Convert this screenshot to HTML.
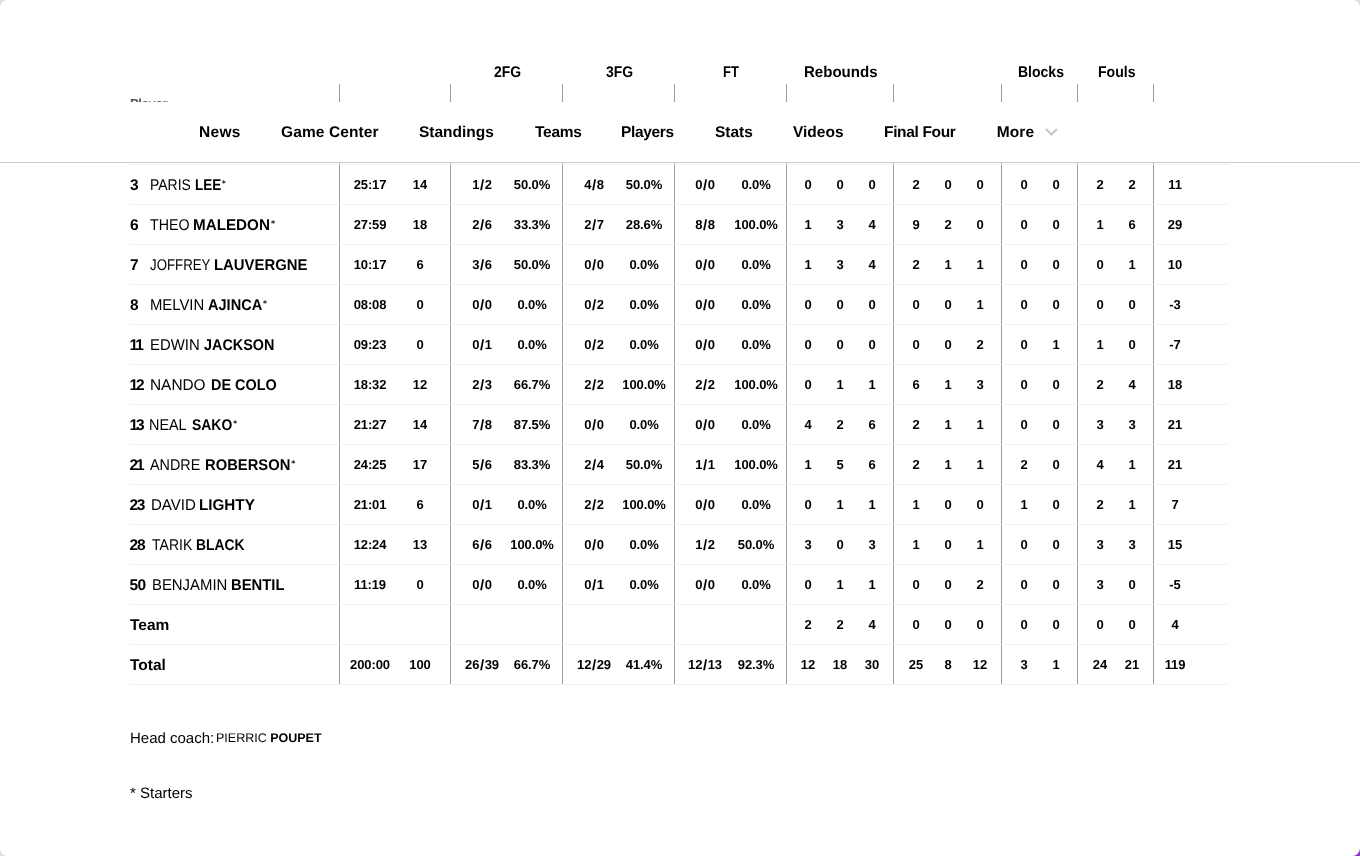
<!DOCTYPE html>
<html lang="en"><head><meta charset="utf-8"><title>Box score</title>
<style>
html,body{margin:0;padding:0}
body{width:1360px;height:856px;overflow:hidden;position:relative;background:#e2e2e2;font-family:"Liberation Sans",Arial,sans-serif;color:#000;text-rendering:geometricPrecision}
.corner{position:absolute;right:0;bottom:0;width:40px;height:40px;background:#9a2be2}
.page{position:absolute;left:0;top:0;width:1360px;height:856px;background:#fff;border-radius:8px;overflow:hidden}
.g{position:absolute;top:63px;height:20px;line-height:20px;font-size:15.5px;font-weight:bold;white-space:nowrap;transform-origin:0 15px}
.hv{position:absolute;top:84px;height:18px;width:1px;background:#9c9c9c}
.pl{position:absolute;left:130px;top:96.6px;font-size:13px;font-weight:bold;color:#555;line-height:14px;letter-spacing:-0.3px}
.nav{position:absolute;left:0;top:102px;width:1360px;height:60px;background:#fff;border-bottom:1px solid #cbcbcb}
.nav span{position:absolute;top:0.5px;line-height:59px;font-size:15.5px;font-weight:bold;white-space:nowrap}
.chev{position:absolute;left:1044px;top:26px}
.hl{position:absolute;left:130px;width:1099px;height:1px;background:#f1f1f1}
.bv{position:absolute;top:163px;height:521px;width:1px;background:#9c9c9c}
.ix{position:absolute;width:3px;height:1px;background:linear-gradient(90deg,#f9f9f9 0 1px,#d0d0d0 1px 2px,#f9f9f9 2px 3px)}
.r{position:absolute;left:0;width:1360px;height:39px}
.num{position:absolute;left:130px;top:1px;line-height:39px;font-size:15.5px;font-weight:bold}
.nm{position:absolute;left:151px;top:1px;line-height:39px;font-size:15.5px;white-space:nowrap;transform-origin:0 25px}
.ln{font-weight:bold}
.nm i{font-style:normal;font-weight:bold;font-size:8px;font-family:"DejaVu Sans",sans-serif;position:relative;top:-4px;margin-left:1px;letter-spacing:0}
.c{position:absolute;top:0px;line-height:39px;font-size:13px;font-weight:bold;width:60px;margin-left:-30px;text-align:center;letter-spacing:-0.1px}
.sl{margin:0 0.6px;font-size:15px;line-height:0;position:relative;top:1px}
.lab{position:absolute;left:130px;top:1px;line-height:39px;font-size:15.5px;font-weight:bold}
.coach{position:absolute;left:130px;top:729px;font-size:15px;line-height:20px;letter-spacing:0px}
.coach .s{font-size:12.5px;letter-spacing:0px;margin-left:-2.4px;position:relative;top:-1px}
.star{position:absolute;left:130px;top:784px;font-size:15px;line-height:20px;letter-spacing:0px}
</style></head><body>
<div class="corner"></div>
<div class="page">

<div class="g" id="g0" style="left:494.0px;transform:scaleX(0.9)">2FG</div>
<div class="g" id="g1" style="left:606.0px;transform:scaleX(0.9)">3FG</div>
<div class="g" id="g2" style="left:723.1px;transform:scaleX(0.8366)">FT</div>
<div class="g" id="g3" style="left:804.02px;transform:scaleX(0.9709)">Rebounds</div>
<div class="g" id="g4" style="left:1018.02px;transform:scaleX(0.9043)">Blocks</div>
<div class="g" id="g5" style="left:1098.02px;transform:scaleX(0.9078)">Fouls</div>
<div class="hv" style="left:339px"></div>
<div class="hv" style="left:450px"></div>
<div class="hv" style="left:562px"></div>
<div class="hv" style="left:674px"></div>
<div class="hv" style="left:786px"></div>
<div class="hv" style="left:893px"></div>
<div class="hv" style="left:1001px"></div>
<div class="hv" style="left:1077px"></div>
<div class="hv" style="left:1153px"></div>
<div class="pl" id="pl">Player</div>
<div class="hl" style="top:164px"></div>
<div class="hl" style="top:204px"></div>
<div class="hl" style="top:244px"></div>
<div class="hl" style="top:284px"></div>
<div class="hl" style="top:324px"></div>
<div class="hl" style="top:364px"></div>
<div class="hl" style="top:404px"></div>
<div class="hl" style="top:444px"></div>
<div class="hl" style="top:484px"></div>
<div class="hl" style="top:524px"></div>
<div class="hl" style="top:564px"></div>
<div class="hl" style="top:604px"></div>
<div class="hl" style="top:644px"></div>
<div class="hl" style="top:684px"></div>
<div class="bv" style="left:339px"></div>
<div class="bv" style="left:450px"></div>
<div class="bv" style="left:562px"></div>
<div class="bv" style="left:674px"></div>
<div class="bv" style="left:786px"></div>
<div class="bv" style="left:893px"></div>
<div class="bv" style="left:1001px"></div>
<div class="bv" style="left:1077px"></div>
<div class="bv" style="left:1153px"></div>
<div class="ix" style="left:338px;top:164px"></div>
<div class="ix" style="left:449px;top:164px"></div>
<div class="ix" style="left:561px;top:164px"></div>
<div class="ix" style="left:673px;top:164px"></div>
<div class="ix" style="left:785px;top:164px"></div>
<div class="ix" style="left:892px;top:164px"></div>
<div class="ix" style="left:1000px;top:164px"></div>
<div class="ix" style="left:1076px;top:164px"></div>
<div class="ix" style="left:1152px;top:164px"></div>
<div class="ix" style="left:338px;top:204px"></div>
<div class="ix" style="left:449px;top:204px"></div>
<div class="ix" style="left:561px;top:204px"></div>
<div class="ix" style="left:673px;top:204px"></div>
<div class="ix" style="left:785px;top:204px"></div>
<div class="ix" style="left:892px;top:204px"></div>
<div class="ix" style="left:1000px;top:204px"></div>
<div class="ix" style="left:1076px;top:204px"></div>
<div class="ix" style="left:1152px;top:204px"></div>
<div class="ix" style="left:338px;top:244px"></div>
<div class="ix" style="left:449px;top:244px"></div>
<div class="ix" style="left:561px;top:244px"></div>
<div class="ix" style="left:673px;top:244px"></div>
<div class="ix" style="left:785px;top:244px"></div>
<div class="ix" style="left:892px;top:244px"></div>
<div class="ix" style="left:1000px;top:244px"></div>
<div class="ix" style="left:1076px;top:244px"></div>
<div class="ix" style="left:1152px;top:244px"></div>
<div class="ix" style="left:338px;top:284px"></div>
<div class="ix" style="left:449px;top:284px"></div>
<div class="ix" style="left:561px;top:284px"></div>
<div class="ix" style="left:673px;top:284px"></div>
<div class="ix" style="left:785px;top:284px"></div>
<div class="ix" style="left:892px;top:284px"></div>
<div class="ix" style="left:1000px;top:284px"></div>
<div class="ix" style="left:1076px;top:284px"></div>
<div class="ix" style="left:1152px;top:284px"></div>
<div class="ix" style="left:338px;top:324px"></div>
<div class="ix" style="left:449px;top:324px"></div>
<div class="ix" style="left:561px;top:324px"></div>
<div class="ix" style="left:673px;top:324px"></div>
<div class="ix" style="left:785px;top:324px"></div>
<div class="ix" style="left:892px;top:324px"></div>
<div class="ix" style="left:1000px;top:324px"></div>
<div class="ix" style="left:1076px;top:324px"></div>
<div class="ix" style="left:1152px;top:324px"></div>
<div class="ix" style="left:338px;top:364px"></div>
<div class="ix" style="left:449px;top:364px"></div>
<div class="ix" style="left:561px;top:364px"></div>
<div class="ix" style="left:673px;top:364px"></div>
<div class="ix" style="left:785px;top:364px"></div>
<div class="ix" style="left:892px;top:364px"></div>
<div class="ix" style="left:1000px;top:364px"></div>
<div class="ix" style="left:1076px;top:364px"></div>
<div class="ix" style="left:1152px;top:364px"></div>
<div class="ix" style="left:338px;top:404px"></div>
<div class="ix" style="left:449px;top:404px"></div>
<div class="ix" style="left:561px;top:404px"></div>
<div class="ix" style="left:673px;top:404px"></div>
<div class="ix" style="left:785px;top:404px"></div>
<div class="ix" style="left:892px;top:404px"></div>
<div class="ix" style="left:1000px;top:404px"></div>
<div class="ix" style="left:1076px;top:404px"></div>
<div class="ix" style="left:1152px;top:404px"></div>
<div class="ix" style="left:338px;top:444px"></div>
<div class="ix" style="left:449px;top:444px"></div>
<div class="ix" style="left:561px;top:444px"></div>
<div class="ix" style="left:673px;top:444px"></div>
<div class="ix" style="left:785px;top:444px"></div>
<div class="ix" style="left:892px;top:444px"></div>
<div class="ix" style="left:1000px;top:444px"></div>
<div class="ix" style="left:1076px;top:444px"></div>
<div class="ix" style="left:1152px;top:444px"></div>
<div class="ix" style="left:338px;top:484px"></div>
<div class="ix" style="left:449px;top:484px"></div>
<div class="ix" style="left:561px;top:484px"></div>
<div class="ix" style="left:673px;top:484px"></div>
<div class="ix" style="left:785px;top:484px"></div>
<div class="ix" style="left:892px;top:484px"></div>
<div class="ix" style="left:1000px;top:484px"></div>
<div class="ix" style="left:1076px;top:484px"></div>
<div class="ix" style="left:1152px;top:484px"></div>
<div class="ix" style="left:338px;top:524px"></div>
<div class="ix" style="left:449px;top:524px"></div>
<div class="ix" style="left:561px;top:524px"></div>
<div class="ix" style="left:673px;top:524px"></div>
<div class="ix" style="left:785px;top:524px"></div>
<div class="ix" style="left:892px;top:524px"></div>
<div class="ix" style="left:1000px;top:524px"></div>
<div class="ix" style="left:1076px;top:524px"></div>
<div class="ix" style="left:1152px;top:524px"></div>
<div class="ix" style="left:338px;top:564px"></div>
<div class="ix" style="left:449px;top:564px"></div>
<div class="ix" style="left:561px;top:564px"></div>
<div class="ix" style="left:673px;top:564px"></div>
<div class="ix" style="left:785px;top:564px"></div>
<div class="ix" style="left:892px;top:564px"></div>
<div class="ix" style="left:1000px;top:564px"></div>
<div class="ix" style="left:1076px;top:564px"></div>
<div class="ix" style="left:1152px;top:564px"></div>
<div class="ix" style="left:338px;top:604px"></div>
<div class="ix" style="left:449px;top:604px"></div>
<div class="ix" style="left:561px;top:604px"></div>
<div class="ix" style="left:673px;top:604px"></div>
<div class="ix" style="left:785px;top:604px"></div>
<div class="ix" style="left:892px;top:604px"></div>
<div class="ix" style="left:1000px;top:604px"></div>
<div class="ix" style="left:1076px;top:604px"></div>
<div class="ix" style="left:1152px;top:604px"></div>
<div class="ix" style="left:338px;top:644px"></div>
<div class="ix" style="left:449px;top:644px"></div>
<div class="ix" style="left:561px;top:644px"></div>
<div class="ix" style="left:673px;top:644px"></div>
<div class="ix" style="left:785px;top:644px"></div>
<div class="ix" style="left:892px;top:644px"></div>
<div class="ix" style="left:1000px;top:644px"></div>
<div class="ix" style="left:1076px;top:644px"></div>
<div class="ix" style="left:1152px;top:644px"></div>
<div class="r" style="top:165px"><div class="num" style="left:130px;letter-spacing:0.0px">3</div><div class="nm fn" style="left:149.7px;transform:scaleX(0.9001)">PARIS</div><div class="nm ln" style="left:194.85px;transform:scaleX(0.8692)">LEE<i>*</i></div><div class="c" style="left:370px">25:17</div><div class="c" style="left:420px">14</div><div class="c" style="left:482px">1<span class="sl">/</span>2</div><div class="c" style="left:532px">50.0%</div><div class="c" style="left:594px">4<span class="sl">/</span>8</div><div class="c" style="left:644px">50.0%</div><div class="c" style="left:705px">0<span class="sl">/</span>0</div><div class="c" style="left:756px">0.0%</div><div class="c" style="left:808px">0</div><div class="c" style="left:840px">0</div><div class="c" style="left:872px">0</div><div class="c" style="left:916px">2</div><div class="c" style="left:948px">0</div><div class="c" style="left:980px">0</div><div class="c" style="left:1024px">0</div><div class="c" style="left:1056px">0</div><div class="c" style="left:1100px">2</div><div class="c" style="left:1132px">2</div><div class="c" style="left:1175px">11</div></div>
<div class="r" style="top:205px"><div class="num" style="left:130px;letter-spacing:0.0px">6</div><div class="nm fn" style="left:150.4px;transform:scaleX(0.9166)">THEO</div><div class="nm ln" style="left:193.42px;transform:scaleX(0.982)">MALEDON<i>*</i></div><div class="c" style="left:370px">27:59</div><div class="c" style="left:420px">18</div><div class="c" style="left:482px">2<span class="sl">/</span>6</div><div class="c" style="left:532px">33.3%</div><div class="c" style="left:594px">2<span class="sl">/</span>7</div><div class="c" style="left:644px">28.6%</div><div class="c" style="left:705px">8<span class="sl">/</span>8</div><div class="c" style="left:756px">100.0%</div><div class="c" style="left:808px">1</div><div class="c" style="left:840px">3</div><div class="c" style="left:872px">4</div><div class="c" style="left:916px">9</div><div class="c" style="left:948px">2</div><div class="c" style="left:980px">0</div><div class="c" style="left:1024px">0</div><div class="c" style="left:1056px">0</div><div class="c" style="left:1100px">1</div><div class="c" style="left:1132px">6</div><div class="c" style="left:1175px">29</div></div>
<div class="r" style="top:245px"><div class="num" style="left:130px;letter-spacing:0.0px">7</div><div class="nm fn" style="left:149.83px;transform:scaleX(0.8558)">JOFFREY</div><div class="nm ln" style="left:214.05px;transform:scaleX(0.9605)">LAUVERGNE</div><div class="c" style="left:370px">10:17</div><div class="c" style="left:420px">6</div><div class="c" style="left:482px">3<span class="sl">/</span>6</div><div class="c" style="left:532px">50.0%</div><div class="c" style="left:594px">0<span class="sl">/</span>0</div><div class="c" style="left:644px">0.0%</div><div class="c" style="left:705px">0<span class="sl">/</span>0</div><div class="c" style="left:756px">0.0%</div><div class="c" style="left:808px">1</div><div class="c" style="left:840px">3</div><div class="c" style="left:872px">4</div><div class="c" style="left:916px">2</div><div class="c" style="left:948px">1</div><div class="c" style="left:980px">1</div><div class="c" style="left:1024px">0</div><div class="c" style="left:1056px">0</div><div class="c" style="left:1100px">0</div><div class="c" style="left:1132px">1</div><div class="c" style="left:1175px">10</div></div>
<div class="r" style="top:285px"><div class="num" style="left:130px;letter-spacing:0.0px">8</div><div class="nm fn" style="left:149.62px;transform:scaleX(0.9582)">MELVIN</div><div class="nm ln" style="left:208.42px;transform:scaleX(0.939)">AJINCA<i>*</i></div><div class="c" style="left:370px">08:08</div><div class="c" style="left:420px">0</div><div class="c" style="left:482px">0<span class="sl">/</span>0</div><div class="c" style="left:532px">0.0%</div><div class="c" style="left:594px">0<span class="sl">/</span>2</div><div class="c" style="left:644px">0.0%</div><div class="c" style="left:705px">0<span class="sl">/</span>0</div><div class="c" style="left:756px">0.0%</div><div class="c" style="left:808px">0</div><div class="c" style="left:840px">0</div><div class="c" style="left:872px">0</div><div class="c" style="left:916px">0</div><div class="c" style="left:948px">0</div><div class="c" style="left:980px">1</div><div class="c" style="left:1024px">0</div><div class="c" style="left:1056px">0</div><div class="c" style="left:1100px">0</div><div class="c" style="left:1132px">0</div><div class="c" style="left:1175px">-3</div></div>
<div class="r" style="top:325px"><div class="num" style="left:129.5px;letter-spacing:-2.0px">11</div><div class="nm fn" style="left:150.24px;transform:scaleX(0.9621)">EDWIN</div><div class="nm ln" style="left:204.39px;transform:scaleX(0.9281)">JACKSON</div><div class="c" style="left:370px">09:23</div><div class="c" style="left:420px">0</div><div class="c" style="left:482px">0<span class="sl">/</span>1</div><div class="c" style="left:532px">0.0%</div><div class="c" style="left:594px">0<span class="sl">/</span>2</div><div class="c" style="left:644px">0.0%</div><div class="c" style="left:705px">0<span class="sl">/</span>0</div><div class="c" style="left:756px">0.0%</div><div class="c" style="left:808px">0</div><div class="c" style="left:840px">0</div><div class="c" style="left:872px">0</div><div class="c" style="left:916px">0</div><div class="c" style="left:948px">0</div><div class="c" style="left:980px">2</div><div class="c" style="left:1024px">0</div><div class="c" style="left:1056px">1</div><div class="c" style="left:1100px">1</div><div class="c" style="left:1132px">0</div><div class="c" style="left:1175px">-7</div></div>
<div class="r" style="top:365px"><div class="num" style="left:129.5px;letter-spacing:-2.0px">12</div><div class="nm fn" style="left:150.22px;transform:scaleX(0.9928)">NANDO</div><div class="nm ln" style="left:211.21px;transform:scaleX(0.9328)">DE COLO</div><div class="c" style="left:370px">18:32</div><div class="c" style="left:420px">12</div><div class="c" style="left:482px">2<span class="sl">/</span>3</div><div class="c" style="left:532px">66.7%</div><div class="c" style="left:594px">2<span class="sl">/</span>2</div><div class="c" style="left:644px">100.0%</div><div class="c" style="left:705px">2<span class="sl">/</span>2</div><div class="c" style="left:756px">100.0%</div><div class="c" style="left:808px">0</div><div class="c" style="left:840px">1</div><div class="c" style="left:872px">1</div><div class="c" style="left:916px">6</div><div class="c" style="left:948px">1</div><div class="c" style="left:980px">3</div><div class="c" style="left:1024px">0</div><div class="c" style="left:1056px">0</div><div class="c" style="left:1100px">2</div><div class="c" style="left:1132px">4</div><div class="c" style="left:1175px">18</div></div>
<div class="r" style="top:405px"><div class="num" style="left:129.5px;letter-spacing:-2.0px">13</div><div class="nm fn" style="left:149.28px;transform:scaleX(0.9284)">NEAL</div><div class="nm ln" style="left:192.04px;transform:scaleX(0.8984)">SAKO<i>*</i></div><div class="c" style="left:370px">21:27</div><div class="c" style="left:420px">14</div><div class="c" style="left:482px">7<span class="sl">/</span>8</div><div class="c" style="left:532px">87.5%</div><div class="c" style="left:594px">0<span class="sl">/</span>0</div><div class="c" style="left:644px">0.0%</div><div class="c" style="left:705px">0<span class="sl">/</span>0</div><div class="c" style="left:756px">0.0%</div><div class="c" style="left:808px">4</div><div class="c" style="left:840px">2</div><div class="c" style="left:872px">6</div><div class="c" style="left:916px">2</div><div class="c" style="left:948px">1</div><div class="c" style="left:980px">1</div><div class="c" style="left:1024px">0</div><div class="c" style="left:1056px">0</div><div class="c" style="left:1100px">3</div><div class="c" style="left:1132px">3</div><div class="c" style="left:1175px">21</div></div>
<div class="r" style="top:445px"><div class="num" style="left:129.5px;letter-spacing:-2.0px">21</div><div class="nm fn" style="left:149.79px;transform:scaleX(0.9259)">ANDRE</div><div class="nm ln" style="left:204.63px;transform:scaleX(0.9531)">ROBERSON<i>*</i></div><div class="c" style="left:370px">24:25</div><div class="c" style="left:420px">17</div><div class="c" style="left:482px">5<span class="sl">/</span>6</div><div class="c" style="left:532px">83.3%</div><div class="c" style="left:594px">2<span class="sl">/</span>4</div><div class="c" style="left:644px">50.0%</div><div class="c" style="left:705px">1<span class="sl">/</span>1</div><div class="c" style="left:756px">100.0%</div><div class="c" style="left:808px">1</div><div class="c" style="left:840px">5</div><div class="c" style="left:872px">6</div><div class="c" style="left:916px">2</div><div class="c" style="left:948px">1</div><div class="c" style="left:980px">1</div><div class="c" style="left:1024px">2</div><div class="c" style="left:1056px">0</div><div class="c" style="left:1100px">4</div><div class="c" style="left:1132px">1</div><div class="c" style="left:1175px">21</div></div>
<div class="r" style="top:485px"><div class="num" style="left:129.5px;letter-spacing:-1.3px">23</div><div class="nm fn" style="left:150.62px;transform:scaleX(0.9715)">DAVID</div><div class="nm ln" style="left:198.6px;transform:scaleX(0.9821)">LIGHTY</div><div class="c" style="left:370px">21:01</div><div class="c" style="left:420px">6</div><div class="c" style="left:482px">0<span class="sl">/</span>1</div><div class="c" style="left:532px">0.0%</div><div class="c" style="left:594px">2<span class="sl">/</span>2</div><div class="c" style="left:644px">100.0%</div><div class="c" style="left:705px">0<span class="sl">/</span>0</div><div class="c" style="left:756px">0.0%</div><div class="c" style="left:808px">0</div><div class="c" style="left:840px">1</div><div class="c" style="left:872px">1</div><div class="c" style="left:916px">1</div><div class="c" style="left:948px">0</div><div class="c" style="left:980px">0</div><div class="c" style="left:1024px">1</div><div class="c" style="left:1056px">0</div><div class="c" style="left:1100px">2</div><div class="c" style="left:1132px">1</div><div class="c" style="left:1175px">7</div></div>
<div class="r" style="top:525px"><div class="num" style="left:129.5px;letter-spacing:-1.0px">28</div><div class="nm fn" style="left:151.61px;transform:scaleX(0.9047)">TARIK</div><div class="nm ln" style="left:196.04px;transform:scaleX(0.895)">BLACK</div><div class="c" style="left:370px">12:24</div><div class="c" style="left:420px">13</div><div class="c" style="left:482px">6<span class="sl">/</span>6</div><div class="c" style="left:532px">100.0%</div><div class="c" style="left:594px">0<span class="sl">/</span>0</div><div class="c" style="left:644px">0.0%</div><div class="c" style="left:705px">1<span class="sl">/</span>2</div><div class="c" style="left:756px">50.0%</div><div class="c" style="left:808px">3</div><div class="c" style="left:840px">0</div><div class="c" style="left:872px">3</div><div class="c" style="left:916px">1</div><div class="c" style="left:948px">0</div><div class="c" style="left:980px">1</div><div class="c" style="left:1024px">0</div><div class="c" style="left:1056px">0</div><div class="c" style="left:1100px">3</div><div class="c" style="left:1132px">3</div><div class="c" style="left:1175px">15</div></div>
<div class="r" style="top:565px"><div class="num" style="left:129.5px;letter-spacing:-0.5px">50</div><div class="nm fn" style="left:152.25px;transform:scaleX(0.9607)">BENJAMIN</div><div class="nm ln" style="left:231.23px;transform:scaleX(0.9565)">BENTIL</div><div class="c" style="left:370px">11:19</div><div class="c" style="left:420px">0</div><div class="c" style="left:482px">0<span class="sl">/</span>0</div><div class="c" style="left:532px">0.0%</div><div class="c" style="left:594px">0<span class="sl">/</span>1</div><div class="c" style="left:644px">0.0%</div><div class="c" style="left:705px">0<span class="sl">/</span>0</div><div class="c" style="left:756px">0.0%</div><div class="c" style="left:808px">0</div><div class="c" style="left:840px">1</div><div class="c" style="left:872px">1</div><div class="c" style="left:916px">0</div><div class="c" style="left:948px">0</div><div class="c" style="left:980px">2</div><div class="c" style="left:1024px">0</div><div class="c" style="left:1056px">0</div><div class="c" style="left:1100px">3</div><div class="c" style="left:1132px">0</div><div class="c" style="left:1175px">-5</div></div>
<div class="r" style="top:605px"><div class="lab">Team</div><div class="c" style="left:808px">2</div><div class="c" style="left:840px">2</div><div class="c" style="left:872px">4</div><div class="c" style="left:916px">0</div><div class="c" style="left:948px">0</div><div class="c" style="left:980px">0</div><div class="c" style="left:1024px">0</div><div class="c" style="left:1056px">0</div><div class="c" style="left:1100px">0</div><div class="c" style="left:1132px">0</div><div class="c" style="left:1175px">4</div></div>
<div class="r" style="top:645px"><div class="lab">Total</div><div class="c" style="left:370px">200:00</div><div class="c" style="left:420px">100</div><div class="c" style="left:482px">26<span class="sl">/</span>39</div><div class="c" style="left:532px">66.7%</div><div class="c" style="left:594px">12<span class="sl">/</span>29</div><div class="c" style="left:644px">41.4%</div><div class="c" style="left:705px">12<span class="sl">/</span>13</div><div class="c" style="left:756px">92.3%</div><div class="c" style="left:808px">12</div><div class="c" style="left:840px">18</div><div class="c" style="left:872px">30</div><div class="c" style="left:916px">25</div><div class="c" style="left:948px">8</div><div class="c" style="left:980px">12</div><div class="c" style="left:1024px">3</div><div class="c" style="left:1056px">1</div><div class="c" style="left:1100px">24</div><div class="c" style="left:1132px">21</div><div class="c" style="left:1175px">119</div></div>
<div class="coach">Head coach: <span class="s">PIERRIC <b>POUPET</b></span></div>
<div class="star">* Starters</div>
<div class="nav">
<span id="n0" style="left:199.0px;letter-spacing:0.333px">News</span>
<span id="n1" style="left:281px;letter-spacing:0.1px">Game Center</span>
<span id="n2" style="left:419px;letter-spacing:0.0px">Standings</span>
<span id="n3" style="left:535.0px;letter-spacing:-0.25px">Teams</span>
<span id="n4" style="left:621.0px;letter-spacing:-0.333px">Players</span>
<span id="n5" style="left:715px;letter-spacing:0.0px">Stats</span>
<span id="n6" style="left:793px;letter-spacing:0.0px">Videos</span>
<span id="n7" style="left:884px;letter-spacing:-0.334px">Final Four</span>
<span id="n8" style="left:996.8px;letter-spacing:0.066px">More</span>
<svg class="chev" width="16" height="10" viewBox="0 0 16 10"><path d="M2 1 L7.5 6.5 L13 1" fill="none" stroke="#c6c6c6" stroke-width="2"/></svg>
</div>
</div>
</body></html>
